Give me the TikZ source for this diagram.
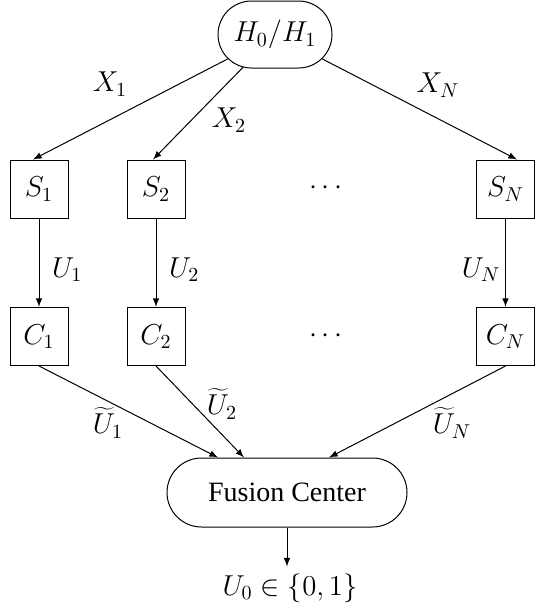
\documentclass[tikz,border=0pt]{standalone}
\usepackage[no-math]{fontspec}
\setmainfont{Liberation Serif}
\usetikzlibrary{shapes.misc}
\begin{document}
\begin{tikzpicture}[>=latex, x=0.5pt, y=-0.5pt, font=\fontsize{14}{17}\selectfont]
    % 通用样式
    \tikzstyle{node_box} = [rectangle, draw, line width=0.5pt, minimum size=29pt, inner sep=0pt]
    \tikzstyle{node_round} = [rounded rectangle, draw, line width=0.5pt, inner sep=0pt]
    \tikzstyle{arrow_sig} = [->, line width=0.5pt]

    \useasboundingbox (0,0) rectangle (535,611);

    % ================= 假设 =================
    \node[node_round, minimum width=57pt, minimum height=33.5pt] (H) at (275,34.5) {$H_0/H_1$};

    % ================= 传感器与信道 =================
    \foreach \n/\x/\a/\dx in {1/39/west/3, 2/156/west/3, N/505.5/east/1} {
        \node[node_box] (S\n) at (\x,189) {$S_\n$};
        \node[node_box] (C\n) at (\x,336.5) {$C_\n$};
        \draw[arrow_sig] (S\n) -- node[pos=0.58, anchor=\a, xshift=\dx pt] (u\n) {$U_\n$} (C\n);
    }
    \node (dotS) at (326,188) {$\cdots$};
    \node (dotC) at (326,336) {$\cdots$};

    % 观测
    \draw[arrow_sig] (H) -- ([xshift=-3pt]S1.north);
    \draw[arrow_sig] (H) -- ([xshift=-1.5pt]S2.north);
    \draw[arrow_sig] (H) -- ([xshift=5.75pt]SN.north);
    \node (x1) at (110,84) {$X_1$};
    \node (x2) at (229,120) {$X_2$};
    \node (xN) at (438,85) {$X_N$};

    % ================= 融合中心 =================
    \node[node_round, minimum width=120pt, minimum height=34.5pt] (F) at (287,492.5) {Fusion Center};

    \draw[arrow_sig] (C1.south) -- ([xshift=-34.5pt]F.north);
    \draw[arrow_sig] (C2.south) -- ([xshift=-21.5pt]F.north);
    \draw[arrow_sig] (CN.south) -- ([xshift=21pt]F.north);
    \node (v1) at (108,423) {$\widetilde{U}_1$};
    \node (v2) at (222,404) {$\widetilde{U}_2$};
    \node (vN) at (452,423) {$\widetilde{U}_N$};

    % 判决输出
    \node (U0) at (290,588) {$U_0\in\{0,1\}$};
    \draw[arrow_sig] (F.south) -- (F.south |- U0.north);

\end{tikzpicture}
\end{document}
